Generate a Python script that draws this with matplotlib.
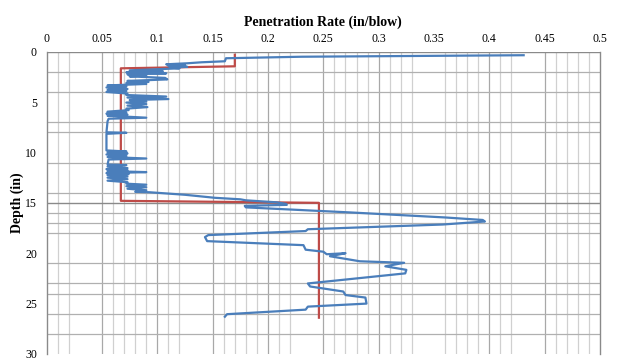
"""Penetration rate versus depth profile."""

import matplotlib
matplotlib.use('Agg')
import matplotlib.pyplot as plt


# Data
# ----

# measured penetration rate (in/blow) and depth (in)
rate = [
    0.431, 0.230, 0.184, 0.162, 0.161, 0.140, 0.127, 0.108, 0.125, 0.110,
    0.127, 0.112, 0.120,
    0.075, 0.105, 0.072, 0.108, 0.073, 0.090, 0.075, 0.107, 0.109, 0.073,
    0.092, 0.072, 0.090,
    0.055, 0.072, 0.054, 0.073, 0.055, 0.072, 0.054, 0.073,
    0.072, 0.108, 0.073, 0.110, 0.075, 0.090, 0.072, 0.090, 0.073, 0.091,
    0.072, 0.074,
    0.055, 0.072, 0.054, 0.073, 0.055, 0.090, 0.056, 0.055,
    0.054, 0.072, 0.054,
    0.054, 0.072, 0.055, 0.073, 0.054, 0.072, 0.055, 0.090, 0.056, 0.055,
    0.072, 0.055,
    0.073, 0.054, 0.073, 0.055, 0.090, 0.054, 0.074, 0.055, 0.073, 0.055,
    0.073, 0.055, 0.073,
    0.072, 0.090, 0.072, 0.090, 0.073, 0.090, 0.080,
    0.093, 0.125, 0.152, 0.175, 0.180, 0.208, 0.216, 0.217, 0.179, 0.180,
    0.274, 0.360, 0.394, 0.396, 0.358, 0.236, 0.234, 0.146, 0.143, 0.145,
    0.232, 0.234, 0.250, 0.253, 0.270, 0.256, 0.283, 0.323, 0.306, 0.325,
    0.324, 0.236, 0.238, 0.268, 0.270, 0.288, 0.289, 0.236, 0.234, 0.163,
    0.161,
]
depth = [
    0.35, 0.50, 0.60, 0.65, 0.95, 1.05, 1.15, 1.25, 1.35, 1.42,
    1.50, 1.58, 1.65,
    1.85, 1.95, 2.05, 2.15, 2.25, 2.35, 2.45, 2.60, 2.75, 2.90,
    3.00, 3.10, 3.20,
    3.35, 3.45, 3.55, 3.70, 3.80, 3.90, 4.00, 4.15,
    4.30, 4.45, 4.55, 4.70, 4.80, 4.95, 5.05, 5.20, 5.35, 5.50,
    5.65, 5.80,
    5.95, 6.05, 6.15, 6.25, 6.35, 6.55, 6.65, 6.90,
    8.00, 8.05, 8.15,
    9.80, 9.90, 10.00, 10.10, 10.20, 10.35, 10.45, 10.60, 10.70, 11.20,
    11.25, 11.40,
    11.55, 11.65, 11.75, 11.85, 11.95, 12.05, 12.15, 12.25, 12.40, 12.50,
    12.65, 12.80, 12.95,
    13.10, 13.20, 13.35, 13.45, 13.60, 13.75, 13.90,
    13.95, 14.20, 14.50, 14.65, 14.75, 14.95, 15.10, 15.20, 15.30, 15.45,
    15.95, 16.45, 16.70, 16.85, 17.15, 17.62, 17.80, 18.20, 18.40, 18.80,
    19.20, 19.65, 19.85, 20.10, 20.00, 20.30, 20.80, 20.95, 21.30, 21.65,
    22.00, 23.00, 23.30, 23.80, 24.15, 24.40, 25.00, 25.30, 25.60, 26.05,
    26.30,
]

# layered average rate
avg_rate = [0.170, 0.170, 0.067, 0.067, 0.246, 0.246]
avg_depth = [0.30, 1.45, 1.65, 14.80, 15.00, 26.40]

xticks = [0, 0.05, 0.1, 0.15, 0.2, 0.25, 0.3, 0.35, 0.4, 0.45, 0.5]
xticklabels = ['0', '0.05', '0.1', '0.15', '0.2', '0.25', '0.3', '0.35',
               '0.4', '0.45', '0.5']
yticks = [0, 5, 10, 15, 20, 25, 30]


# Figure
# ------

plt.rcParams['font.family'] = ['Liberation Serif', 'DejaVu Serif']

fig = plt.figure(figsize=(6.21, 3.60), dpi=100)
ax = fig.add_axes([0.0752, 0.0167, 0.891, 0.8397])

# irregular excel-like gridlines
vgrid = [0.01, 0.02, 0.06, 0.07, 0.08, 0.09, 0.11, 0.12, 0.16, 0.17,
         0.18, 0.19, 0.21, 0.22, 0.26, 0.27, 0.28, 0.29, 0.31, 0.32, 0.33,
         0.36, 0.37, 0.38, 0.39, 0.41, 0.42, 0.46, 0.47, 0.48, 0.49]
vmajor = [0.05, 0.1, 0.15, 0.2, 0.25, 0.3, 0.4, 0.45]
hgrid = [2, 4, 7, 8, 11, 14, 16, 17, 18, 21, 23, 24, 26, 28]
for x in vgrid:
    ax.axvline(x, color='#d0d0d0', lw=0.9, zorder=0)
for x in vmajor:
    ax.axvline(x, color='#a8a8a8', lw=0.9, zorder=0)
for y in hgrid:
    ax.axhline(y, color='#b0b0b0', lw=0.9, zorder=0)
ax.axhline(15, color='#8a8a8a', lw=1.0, zorder=0)
ax.axhline(0, color='#8a8a8a', lw=1.0, zorder=0)

# data lines
ax.plot(rate, depth, color='#4a7ebb', lw=1.6, zorder=3)
ax.plot(avg_rate, avg_depth, color='#be4b48', lw=1.6, zorder=2)

# axes
ax.set_xlim(0, 0.5)
ax.set_ylim(30, 0)
ax.xaxis.tick_top()
ax.xaxis.set_label_position('top')
ax.set_xticks(xticks)
ax.set_xticklabels(xticklabels)
ax.set_yticks(yticks)
ax.tick_params(length=0, labelsize=8.5, colors='black')
ax.tick_params(axis='x', pad=5)
ax.tick_params(axis='y', pad=7)
for side in ('top', 'bottom'):
    ax.spines[side].set_visible(False)
for side in ('left', 'right'):
    ax.spines[side].set_color('#8a8a8a')
    ax.spines[side].set_linewidth(1.0)

ax.set_xlabel('Penetration Rate (in/blow)', fontsize=10, fontweight='bold',
              labelpad=5)
ax.set_ylabel('Depth (in)', fontsize=10, fontweight='bold', labelpad=1)

fig.savefig('out.png', dpi=100)
